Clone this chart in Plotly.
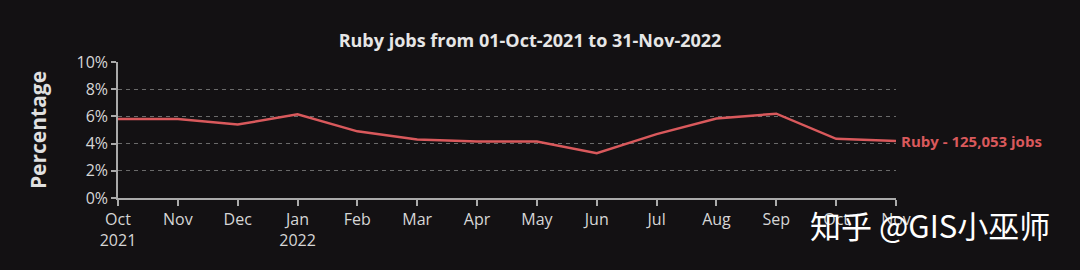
import plotly.graph_objects as go

months = ["2021-10", "2021-11", "2021-12", "2022-01", "2022-02", "2022-03", "2022-04",
          "2022-05", "2022-06", "2022-07", "2022-08", "2022-09", "2022-10", "2022-11"]
tick_labels = ["Oct<br>2021", "Nov", "Dec", "Jan<br>2022", "Feb", "Mar", "Apr",
               "May", "Jun", "Jul", "Aug", "Sep", "Oct", "Nov"]
ruby_pct = [5.8, 5.8, 5.4, 6.15, 4.9, 4.3, 4.15, 4.15, 3.3, 4.7, 5.85, 6.2, 4.35, 4.2]
series_label = "Ruby - 125,053 jobs"
title = "Ruby jobs from 01-Oct-2021 to 31-Nov-2022"

line_color = "#d9595c"
bg = "#131113"
font_fam = "Open Sans, Lato, DejaVu Sans, sans-serif"

fig = go.Figure()
fig.add_trace(go.Scatter(x=months, y=ruby_pct, mode="lines",
                         line=dict(color=line_color, width=2.5),
                         showlegend=False, hoverinfo="skip"))

fig.add_annotation(x=months[-1], y=ruby_pct[-1], text="<b>" + series_label + "</b>",
                   showarrow=False, xanchor="left", yanchor="middle", xshift=3,
                   font=dict(color=line_color, size=15, family=font_fam))

fig.add_annotation(xref="paper", yref="paper", x=(1052 - 118) / (896 - 118), y=(198 - 224) / 136,
                   text="知乎 @GIS小巫师", showarrow=False, xanchor="right", yanchor="middle",
                   font=dict(color="#ffffff", size=31, family="Noto Sans CJK SC"))

fig.update_layout(
    width=1080, height=270,
    margin=dict(l=118, r=184, t=62, b=72),
    paper_bgcolor=bg, plot_bgcolor=bg,
    title=dict(text="<b>" + title + "</b>", x=530 / 1080, xanchor="center",
               y=1 - 41 / 270, yanchor="middle",
               font=dict(size=18, color="#e6e6e6", family=font_fam)),
    xaxis=dict(type="category", tickmode="array", tickvals=months, ticktext=tick_labels,
               range=[0, len(months) - 1], showgrid=False, zeroline=False,
               showline=True, linecolor="#aaaaaa", linewidth=1.5,
               ticks="outside", ticklen=6, tickcolor="#aaaaaa", tickwidth=1.5,
               tickfont=dict(size=16, color="#d6d6d6", family=font_fam)),
    yaxis=dict(range=[0, 10], dtick=2, ticksuffix="%", showgrid=True,
               gridcolor="#6a6a6a", griddash="4px,4px", gridwidth=1, zeroline=False,
               showline=True, linecolor="#aaaaaa", linewidth=1.5,
               ticks="outside", ticklen=5, tickcolor="#aaaaaa", tickwidth=1.5,
               tickfont=dict(size=16, color="#d6d6d6", family=font_fam),
               title=dict(text="<b>Percentage</b>", standoff=24,
                          font=dict(size=21, color="#e0e0e0", family=font_fam))),
)

fig.write_html("out.html")
